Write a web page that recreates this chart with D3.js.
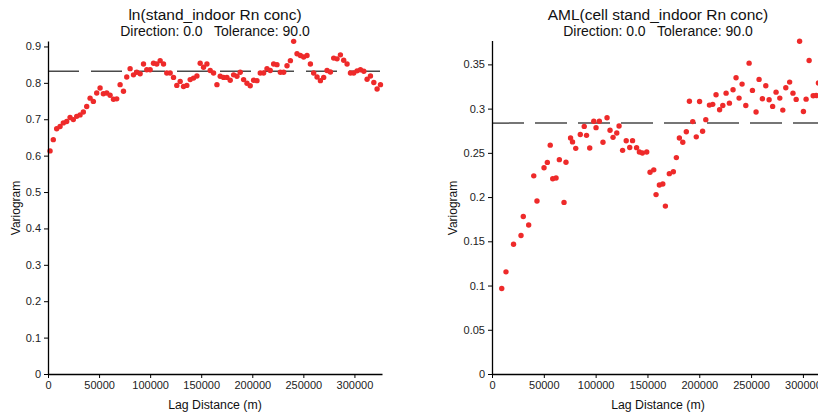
<!DOCTYPE html>
<html>
<head>
<meta charset="utf-8">
<script src="https://cdn.jsdelivr.net/npm/d3@7"></script>
<style>
  body { margin: 0; background: #fff; }
  svg { display: block; font-family: "Liberation Sans", Arial, sans-serif; }
  .tick text { fill: #222; font-size: 11px; }
  .axis path, .axis line { stroke: #000; }
</style>
</head>
<body>
<div id="here"></div>
<script>
// DATA
// left panel: ln(stand_indoor Rn conc)
const lnLag = [2000, 5200, 8500, 11800, 15000, 18300, 21600, 24800, 28100, 31400,
  34600, 37900, 41200, 44400, 47700, 51000, 54200, 57500, 60800, 64100,
  67300, 70600, 73900, 77100, 80400, 83700, 86900, 90200, 93500, 96700,
  100000, 103300, 106500, 109800, 113100, 116300, 119600, 122900, 126100, 129400,
  132700, 135900, 139200, 142500, 145800, 149000, 152300, 155600, 158800, 162100,
  165400, 168600, 171900, 175200, 178400, 181700, 185000, 188200, 191500, 194800,
  198000, 201300, 204600, 207800, 211100, 214400, 217600, 220900, 224200, 227500,
  230700, 234000, 237300, 240500, 243800, 247100, 250300, 253600, 256900, 260100,
  263400, 266700, 269900, 273200, 276500, 279700, 283000, 286300, 289500, 292800,
  296100, 299300, 302600, 305900, 309200, 312400, 315700, 319000, 322200, 325500];
const lnGamma = [0.613, 0.644, 0.674, 0.680, 0.690, 0.694, 0.705, 0.699, 0.708, 0.712,
  0.720, 0.735, 0.758, 0.749, 0.772, 0.786, 0.770, 0.772, 0.766, 0.755,
  0.756, 0.795, 0.777, 0.816, 0.839, 0.822, 0.829, 0.825, 0.852, 0.836,
  0.836, 0.854, 0.852, 0.861, 0.852, 0.827, 0.827, 0.815, 0.793, 0.804,
  0.790, 0.793, 0.809, 0.813, 0.819, 0.854, 0.843, 0.852, 0.834, 0.827,
  0.795, 0.818, 0.815, 0.815, 0.807, 0.822, 0.818, 0.829, 0.809, 0.799,
  0.792, 0.807, 0.806, 0.827, 0.827, 0.839, 0.834, 0.852, 0.850, 0.829,
  0.829, 0.847, 0.861, 0.914, 0.880, 0.875, 0.871, 0.875, 0.852, 0.827,
  0.816, 0.806, 0.815, 0.834, 0.830, 0.868, 0.866, 0.877, 0.862, 0.852,
  0.827, 0.827, 0.833, 0.836, 0.832, 0.810, 0.819, 0.801, 0.783, 0.795];
const lnSill = 0.832;

// right panel: AML(cell stand_indoor Rn conc)
const amlLag = [9400, 13500, 20800, 28000, 30200, 35400, 40300, 43400, 50200, 53400,
  56200, 58600, 61800, 65000, 69500, 71400, 75800, 77700, 80800, 85200,
  89000, 91200, 94300, 98200, 100400, 103600, 107100, 111000, 113900, 116800,
  120400, 122600, 126000, 129500, 132900, 135600, 139500, 142200, 145100, 149300,
  152500, 156100, 158300, 161500, 164800, 167300, 171100, 175000, 177900, 180800,
  184100, 187500, 190500, 193700, 197100, 200300, 203200, 206300, 209800, 213000,
  216200, 219600, 222700, 225900, 229100, 232600, 235500, 238400, 241300, 244900,
  248100, 251300, 254800, 257700, 260900, 264200, 267400, 270800, 274100, 277700,
  280600, 283500, 287200, 290400, 293500, 296800, 300500, 303100, 306000, 309900,
  312800, 314900];
const amlGamma = [0.0967, 0.1155, 0.1467, 0.1566, 0.1780, 0.1685, 0.2240, 0.1956, 0.2331, 0.2392,
  0.2587, 0.2207, 0.2216, 0.2423, 0.1940, 0.2393, 0.2667, 0.2624, 0.2551, 0.2707,
  0.2799, 0.2698, 0.2554, 0.2857, 0.2785, 0.2857, 0.2619, 0.2897, 0.2755, 0.2675,
  0.2724, 0.2803, 0.2528, 0.2636, 0.2560, 0.2638, 0.2559, 0.2509, 0.2498, 0.2509,
  0.2280, 0.2308, 0.2028, 0.2137, 0.2148, 0.1898, 0.2265, 0.2286, 0.2446, 0.2667,
  0.2619, 0.2738, 0.3083, 0.2853, 0.2681, 0.3080, 0.2744, 0.2875, 0.3040, 0.3048,
  0.3157, 0.2988, 0.3036, 0.3175, 0.3062, 0.3213, 0.3349, 0.3119, 0.3277, 0.3036,
  0.3514, 0.3206, 0.2961, 0.3330, 0.3112, 0.3258, 0.3100, 0.3025, 0.3186, 0.3119,
  0.2983, 0.3236, 0.3300, 0.3175, 0.3104, 0.3762, 0.2968, 0.3107, 0.3544, 0.3146,
  0.3149, 0.3290];
const amlSill = 0.2836;

// tick values / labels
const xTicks = [0, 50000, 100000, 150000, 200000, 250000, 300000];
const xTickLabels = ["0", "50000", "100000", "150000", "200000", "250000", "300000"];
const lnYTicks = [0, 0.1, 0.2, 0.3, 0.4, 0.5, 0.6, 0.7, 0.8, 0.9];
const lnYTickLabels = ["0", "0.1", "0.2", "0.3", "0.4", "0.5", "0.6", "0.7", "0.8", "0.9"];
const amlYTicks = [0, 0.05, 0.1, 0.15, 0.2, 0.25, 0.3, 0.35];
const amlYTickLabels = ["0", "0.05", "0.1", "0.15", "0.2", "0.25", "0.3", "0.35"];

const width = 818;
const height = 415;

var svg = d3.select("#here")
  .append("svg")
  .attr("width", width)
  .attr("height", height);

function drawPanel(cfg) {
  const x = d3.scaleLinear().domain(cfg.xDomain).range(cfg.xRange);
  const y = d3.scaleLinear().domain(cfg.yDomain).range([374, cfg.yTop]);
  const g = svg.append("g");

  // sill (dashed)
  g.append("line")
    .attr("x1", x(0)).attr("x2", cfg.xRange[1])
    .attr("y1", y(cfg.sill)).attr("y2", y(cfg.sill))
    .attr("stroke", "#4a4a4a")
    .attr("stroke-width", 1.5)
    .attr("stroke-dasharray", cfg.dash);

  // points
  g.selectAll("circle")
    .data(cfg.lag)
    .enter()
    .append("circle")
    .attr("cx", function(d) { return x(d); })
    .attr("cy", function(d, i) { return y(cfg.gamma[i]); })
    .attr("r", 2.7)
    .attr("fill", "#ee2a2a");

  // axes
  g.append("g")
    .attr("class", "axis")
    .attr("transform", "translate(0,374)")
    .call(d3.axisBottom(x).tickValues(xTicks).tickSize(4).tickSizeOuter(0)
      .tickFormat(function(d, i) { return xTickLabels[i]; }));

  g.append("g")
    .attr("class", "axis")
    .attr("transform", `translate(${x(0)},0)`)
    .call(d3.axisLeft(y).tickValues(cfg.yTicks).tickSize(4).tickSizeOuter(0)
      .tickFormat(function(d, i) { return cfg.yTickLabels[i]; }));

  g.selectAll(".axis path").attr("stroke-width", 1.3);
  g.selectAll(".tick text").attr("fill", "#222");

  // titles
  g.append("text")
    .attr("x", cfg.titleX).attr("y", 20)
    .attr("text-anchor", "middle")
    .attr("font-size", "15.5px")
    .attr("fill", "#111")
    .text(cfg.title);

  g.append("text")
    .attr("x", cfg.titleX).attr("y", 36)
    .attr("text-anchor", "middle")
    .attr("font-size", "14px")
    .attr("fill", "#111")
    .style("white-space", "pre")
    .text("Direction: 0.0   Tolerance: 90.0");

  // axis labels
  g.append("text")
    .attr("x", cfg.titleX).attr("y", 409)
    .attr("text-anchor", "middle")
    .attr("font-size", "12.3px")
    .attr("fill", "#111")
    .text("Lag Distance (m)");

  g.append("text")
    .attr("transform", `translate(${cfg.yLabelX},208) rotate(-90)`)
    .attr("text-anchor", "middle")
    .attr("font-size", "12px")
    .attr("fill", "#111")
    .text("Variogram");
}

drawPanel({
  lag: lnLag, gamma: lnGamma, sill: lnSill,
  xDomain: [0, 327000], xRange: [48, 382],
  yDomain: [0, 0.915], yTop: 41,
  yTicks: lnYTicks, yTickLabels: lnYTickLabels,
  dash: "31,12",
  title: "ln(stand_indoor Rn conc)", titleX: 215, yLabelX: 20
});

drawPanel({
  lag: amlLag, gamma: amlGamma, sill: amlSill,
  xDomain: [0, 330000], xRange: [492, 834],
  yDomain: [0, 0.377], yTop: 40.5,
  yTicks: amlYTicks, yTickLabels: amlYTickLabels,
  dash: "32,11",
  title: "AML(cell stand_indoor Rn conc)", titleX: 658, yLabelX: 457
});
</script>
</body>
</html>
